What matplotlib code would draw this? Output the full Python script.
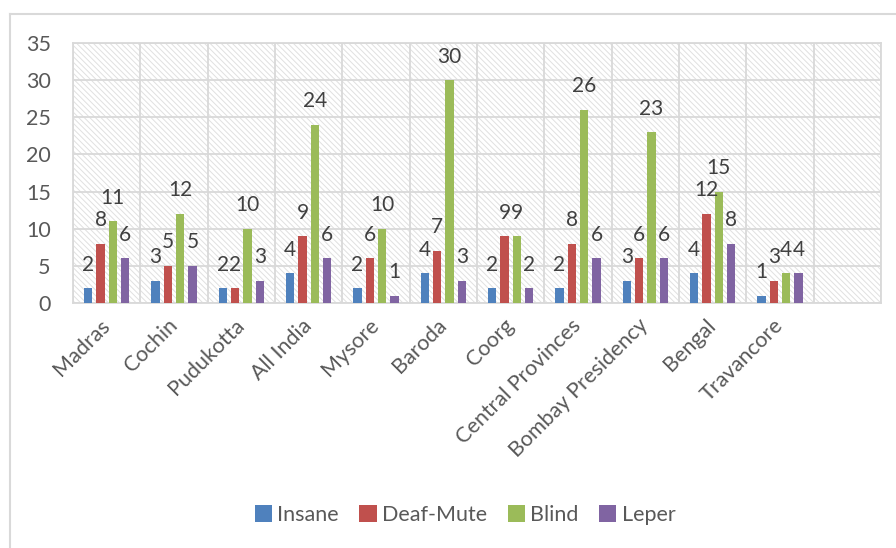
import matplotlib
matplotlib.use("Agg")
import matplotlib.pyplot as plt
from matplotlib.patches import Rectangle
from matplotlib.lines import Line2D
import numpy as np

# disability counts per province / state
categories = ["Madras", "Cochin", "Pudukotta", "All India", "Mysore", "Baroda",
              "Coorg", "Central Provinces", "Bombay Presidency", "Bengal", "Travancore"]
insane = [2, 3, 2, 4, 2, 4, 2, 2, 3, 4, 1]
deaf_mute = [8, 5, 2, 9, 6, 7, 9, 8, 6, 12, 3]
blind = [11, 12, 10, 24, 10, 30, 9, 26, 23, 15, 4]
leper = [6, 5, 3, 6, 1, 3, 2, 6, 6, 8, 4]
series_names = ["Insane", "Deaf-Mute", "Blind", "Leper"]
series_colors = ["#4F81BD", "#C0504D", "#9BBB59", "#8064A2"]
n_slots = 12  # one empty column is kept on the right

plt.rcParams['font.family'] = ['Lato', 'DejaVu Sans']
plt.rcParams['hatch.linewidth'] = 0.7

W, H = 896, 548
fig = plt.figure(figsize=(W / 100, H / 100), dpi=100)
ax = fig.add_axes([73 / W, 1 - 303 / H, 808 / W, 260 / H])

grid_c = "#D9D9D9"
txt_c = "#595959"

# hatched plot area
ax.set_facecolor("white")
ax.add_patch(Rectangle((0, 0), 1, 1, transform=ax.transAxes, facecolor="white",
                       edgecolor="#E0E0E0", hatch="\\" * 6, lw=0, zorder=0))

x = np.arange(len(categories))
step = 0.183
width = 0.12
handles = []
for i, (vals, name, col) in enumerate(zip([insane, deaf_mute, blind, leper],
                                          series_names, series_colors)):
    pos = x + (i - 1.5) * step
    bars = ax.bar(pos, vals, width, color=col, label=name, zorder=3)
    handles.append(bars)
    for px, v in zip(pos, vals):
        ax.annotate(str(v), xy=(px, v), xytext=(0, 17), textcoords="offset points",
                    ha="center", va="center", fontsize=15, color="#404040", zorder=4)

ax.set_xlim(-0.5, n_slots - 0.5)
ax.set_ylim(0, 35)
ax.set_yticks(range(0, 36, 5))
ax.set_xticks(x)
ax.set_xticklabels(categories, rotation=45, ha="right", va="center",
                   rotation_mode="anchor")
ax.set_xticks(np.arange(-0.5, n_slots, 1), minor=True)

ax.tick_params(axis="x", which="both", length=0, pad=14, labelsize=15.5, labelcolor=txt_c)
ax.tick_params(axis="y", length=0, pad=16, labelsize=15.5, labelcolor=txt_c)

ax.set_axisbelow(True)
ax.grid(which="major", axis="y", color=grid_c, lw=1.3, zorder=1)
ax.grid(which="minor", axis="x", color=grid_c, lw=1.3, zorder=1)
for s in ax.spines.values():
    s.set_color(grid_c)
    s.set_linewidth(1.3)

leg = fig.legend(handles, series_names, loc="center",
                 bbox_to_anchor=(465 / W, 1 - 515 / H), ncol=4, frameon=False,
                 fontsize=15.5, handlelength=0.8, handleheight=0.8,
                 handletextpad=0.25, columnspacing=0.95)
for t in leg.get_texts():
    t.set_color(txt_c)

# outer chart frame
fig.add_artist(Line2D([10 / W, 10 / W], [0, 1 - 14 / H], transform=fig.transFigure,
                      color=grid_c, lw=1.5))
fig.add_artist(Line2D([10 / W, 1], [1 - 14 / H, 1 - 14 / H], transform=fig.transFigure,
                      color=grid_c, lw=1.5))

fig.savefig("out.png", dpi=100)
